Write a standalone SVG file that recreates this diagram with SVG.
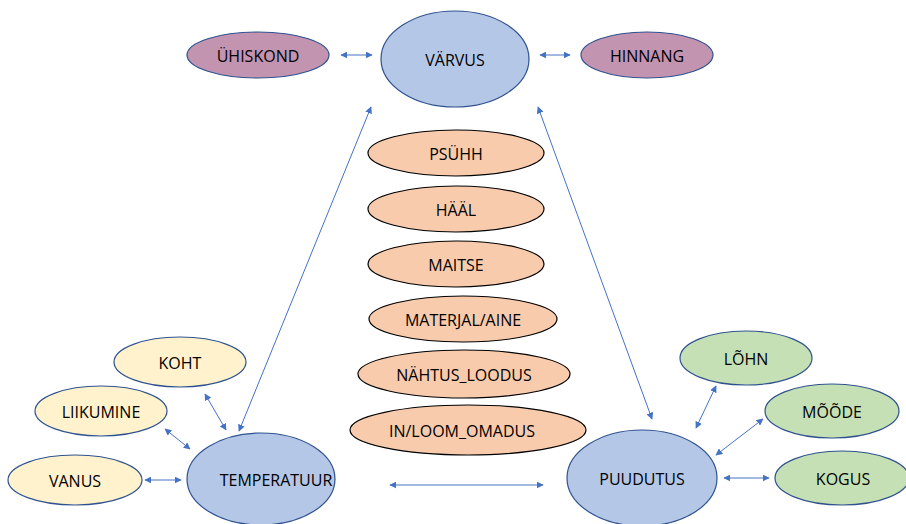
<svg xmlns="http://www.w3.org/2000/svg" width="906" height="524" viewBox="0 0 906 524">
<defs>
<marker id="ah" viewBox="0 0 10 10" refX="9" refY="5" markerWidth="7" markerHeight="7" orient="auto-start-reverse" markerUnits="userSpaceOnUse">
<path d="M0,0 L10,5 L0,10 z" fill="#4472c4"/>
</marker>
<style>
.e{stroke:#2f528f;stroke-width:1.2}
.blue{fill:#b4c7e7}
.mauve{fill:#c294b0}
.peach{fill:#f8cbad;stroke:#000;stroke-width:1.2}
.yellow{fill:#fff2cc}
.green{fill:#c5e0b4}
text{font-family:"Open Sans","Liberation Sans",sans-serif;font-size:16px;fill:#000;text-anchor:middle;dominant-baseline:central}
.c line{stroke:#4472c4;stroke-width:1;marker-start:url(#ah);marker-end:url(#ah)}
</style>
</defs>
<rect width="906" height="524" fill="#fff"/>
<g class="c" id="connectors">
<line x1="341" y1="55" x2="372" y2="55"/>
<line x1="540" y1="55" x2="570" y2="55"/>
<line x1="371" y1="107" x2="239" y2="431"/>
<line x1="538" y1="107" x2="652" y2="419"/>
<line x1="205" y1="394" x2="226" y2="430"/>
<line x1="165" y1="429" x2="190" y2="449"/>
<line x1="145" y1="480" x2="181" y2="480"/>
<line x1="390" y1="485" x2="543" y2="485"/>
<line x1="716" y1="386" x2="696" y2="428"/>
<line x1="763" y1="419" x2="716" y2="455"/>
<line x1="724" y1="478" x2="769" y2="478"/>
</g>
<g id="varvus"><ellipse class="e blue" cx="455" cy="59" rx="74" ry="48"/><text x="455" y="60">VÄRVUS</text></g>
<g id="uhiskond"><ellipse class="e mauve" cx="258" cy="55" rx="71" ry="23"/><text x="258" y="56">ÜHISKOND</text></g>
<g id="hinnang"><ellipse class="e mauve" cx="647" cy="55" rx="66" ry="23"/><text x="647" y="56">HINNANG</text></g>
<g id="psuhh"><ellipse class="peach" cx="456" cy="153" rx="88" ry="23"/><text x="456" y="154">PSÜHH</text></g>
<g id="haal"><ellipse class="peach" cx="456" cy="209" rx="88" ry="23"/><text x="456" y="210">HÄÄL</text></g>
<g id="maitse"><ellipse class="peach" cx="456" cy="264" rx="88" ry="23"/><text x="456" y="265">MAITSE</text></g>
<g id="materjal"><ellipse class="peach" cx="463" cy="319" rx="94" ry="23"/><text x="463" y="320">MATERJAL/AINE</text></g>
<g id="nahtus"><ellipse class="peach" cx="464" cy="374" rx="106" ry="24"/><text x="464" y="375">NÄHTUS_LOODUS</text></g>
<g id="inloom"><ellipse class="peach" cx="468" cy="430" rx="118" ry="25"/><text x="462" y="431">IN/LOOM_OMADUS</text></g>
<g id="koht"><ellipse class="e yellow" cx="180" cy="362" rx="66" ry="25"/><text x="180" y="363">KOHT</text></g>
<g id="liikumine"><ellipse class="e yellow" cx="101" cy="411" rx="66" ry="25"/><text x="101" y="412">LIIKUMINE</text></g>
<g id="vanus"><ellipse class="e yellow" cx="75" cy="480" rx="67" ry="25"/><text x="75" y="481">VANUS</text></g>
<g id="temperatuur"><ellipse class="e blue" cx="261" cy="479" rx="74" ry="46"/><text x="276" y="480">TEMPERATUUR</text></g>
<g id="puudutus"><ellipse class="e blue" cx="642" cy="478" rx="75" ry="48"/><text x="642" y="479">PUUDUTUS</text></g>
<g id="lohn"><ellipse class="e green" cx="746" cy="358" rx="66" ry="27"/><text x="746" y="359">LÕHN</text></g>
<g id="moode"><ellipse class="e green" cx="832" cy="411" rx="67" ry="27"/><text x="832" y="412">MÕÕDE</text></g>
<g id="kogus"><ellipse class="e green" cx="842" cy="478" rx="67" ry="27"/><text x="843" y="479">KOGUS</text></g>
</svg>
